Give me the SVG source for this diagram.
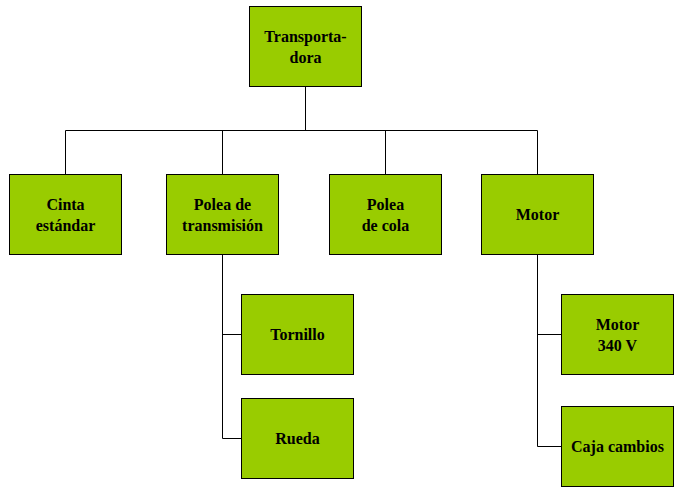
<svg xmlns="http://www.w3.org/2000/svg" width="685" height="492" viewBox="0 0 685 492">
<style>
.n rect{fill:#99cc00;stroke:#000;stroke-width:1}
.n text{font-family:"Liberation Serif",serif;font-weight:bold;font-size:16px;text-anchor:middle}
#c path{fill:none;stroke:#000;stroke-width:1}
</style>
<rect width="685" height="492" fill="#fff"/>
<g id="c">
<path d="M305.5 86V130.5M65.5 174V130.5H537.5V174M222.5 130.5V174M385.5 130.5V174"/>
<path d="M222.5 254V438.5H241M222.5 334.5H241"/>
<path d="M537.5 254V446.5H561M537.5 334.5H561"/>
</g>
<g id="n1" class="n"><rect x="249.5" y="6.5" width="112" height="80"/><text x="305.5" y="42">Transporta-</text><text x="305.5" y="63">dora</text></g>
<g id="n2" class="n"><rect x="9.5" y="174.5" width="112" height="80"/><text x="65.5" y="210">Cinta</text><text x="65.5" y="231">estándar</text></g>
<g id="n3" class="n"><rect x="166.5" y="174.5" width="112" height="80"/><text x="222.5" y="210">Polea de</text><text x="222.5" y="231">transmisión</text></g>
<g id="n4" class="n"><rect x="329.5" y="174.5" width="112" height="80"/><text x="385.5" y="210">Polea</text><text x="385.5" y="231">de cola</text></g>
<g id="n5" class="n"><rect x="481.5" y="174.5" width="112" height="80"/><text x="537.5" y="220">Motor</text></g>
<g id="n6" class="n"><rect x="241.5" y="294.5" width="112" height="80"/><text x="297.5" y="340">Tornillo</text></g>
<g id="n7" class="n"><rect x="241.5" y="398.5" width="112" height="80"/><text x="297.5" y="444">Rueda</text></g>
<g id="n8" class="n"><rect x="561.5" y="294.5" width="112" height="80"/><text x="617.5" y="330">Motor</text><text x="617.5" y="351">340 V</text></g>
<g id="n9" class="n"><rect x="561.5" y="406.5" width="112" height="80"/><text x="617.5" y="452">Caja cambios</text></g>
</svg>
